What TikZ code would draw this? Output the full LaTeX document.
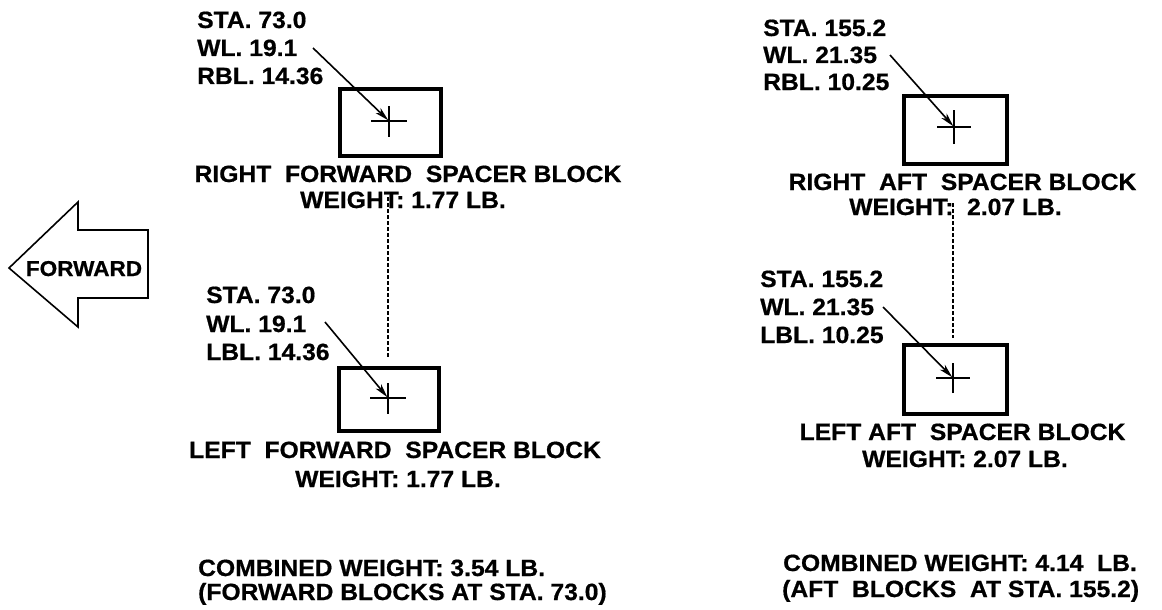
\documentclass[tikz,border=0pt]{standalone}
\usepackage{fontspec}
\setmainfont{Liberation Sans}[FakeStretch=1.05, BoldFeatures={FakeBold=0.7}]
\usetikzlibrary{arrows.meta}
\tikzset{
  txt/.style={inner sep=0pt, font=\fontsize{23.5}{28}\selectfont\bfseries},
  lbl/.style={txt, anchor=base west},
  ttl/.style={txt, anchor=base},
  crossline/.style={line width=1.4pt},
  ptr/.style={line width=1.6pt, -{Stealth[length=14pt, width=7pt, inset=4pt]}, shorten >=1pt},
  dashline/.style={line width=1.4pt, dash pattern=on 4pt off 2pt},
  blk/.style={draw, line width=3.2pt, inner sep=0pt},
}
\begin{document}
\begin{tikzpicture}[x=1pt,y=-1pt]
\useasboundingbox (0,0) rectangle (1162,610);

% ---------- FORWARD arrow ----------
\draw[line width=1.6pt, line join=miter] (9,268) -- (78,202) -- (78,230) -- (148,230) -- (148,298) -- (78,298) -- (78,327) -- cycle;
\node[txt, font=\fontsize{21.5}{26}\selectfont\bfseries, anchor=base] (fwd) at (84,276) {FORWARD};

% ---------- Upper left block ----------
\node[lbl] (ul1) at (197,28) {STA. 73.0};
\node[lbl] (ul2) at (197,56) {WL. 19.1};
\node[lbl] (ul3) at (197,84) {RBL. 14.36};
\node[blk, minimum width=101pt, minimum height=67pt] (ulbox) at (390.5,122.5) {};
\coordinate (ulc) at (389,121);
\draw[crossline] ([xshift=-18pt]ulc) -- ([xshift=18pt]ulc);
\draw[crossline] ([yshift=-15.5pt]ulc) -- ([yshift=15.5pt]ulc);
\coordinate (ula) at (313,48);
\draw[ptr] (ula) -- (ulc);
\node[ttl] (ult) at (408,182) {RIGHT\ \ FORWARD\ \ SPACER BLOCK};
\node[ttl] (ulw) at (403,208) {WEIGHT: 1.77 LB.};

% ---------- Lower left block ----------
\node[lbl] (ll1) at (206,303) {STA. 73.0};
\node[lbl] (ll2) at (206,332) {WL. 19.1};
\node[lbl] (ll3) at (206,360) {LBL. 14.36};
\node[blk, minimum width=100pt, minimum height=63pt] (llbox) at (389,399.5) {};
\coordinate (llc) at (388,398);
\draw[crossline] ([xshift=-18pt]llc) -- ([xshift=18pt]llc);
\draw[crossline] ([yshift=-15.5pt]llc) -- ([yshift=15.5pt]llc);
\coordinate (lla) at (325,322);
\draw[ptr] (lla) -- (llc);
\node[ttl] (llt) at (395,458) {LEFT\ \ FORWARD\ \ SPACER BLOCK};
\node[ttl] (llw) at (398,487) {WEIGHT: 1.77 LB.};

% left dashed link
\coordinate (ld1) at (388,197);
\coordinate (ld2) at (388,357);
\draw[dashline] (ld1) -- (ld2);

% ---------- Upper right block ----------
\node[lbl] (ur1) at (763,36) {STA. 155.2};
\node[lbl] (ur2) at (763,63) {WL. 21.35};
\node[lbl] (ur3) at (763,90) {RBL. 10.25};
\node[blk, minimum width=103pt, minimum height=68pt] (urbox) at (955.5,130) {};
\coordinate (urc) at (954,127);
\draw[crossline] ([xshift=-17pt]urc) -- ([xshift=17pt]urc);
\draw[crossline] ([yshift=-17pt]urc) -- ([yshift=17pt]urc);
\coordinate (ura) at (890,55);
\draw[ptr] (ura) -- (urc);
\node[ttl] (urt) at (962.5,190) {RIGHT\ \ AFT\ \ SPACER BLOCK};
\node[ttl] (urw) at (955.5,215) {WEIGHT:\ \ 2.07 LB.};

% ---------- Lower right block ----------
\node[lbl] (lr1) at (760,287) {STA. 155.2};
\node[lbl] (lr2) at (760,315) {WL. 21.35};
\node[lbl] (lr3) at (760,343) {LBL. 10.25};
\node[blk, minimum width=103pt, minimum height=69pt] (lrbox) at (955.5,379.5) {};
\coordinate (lrc) at (953,378);
\draw[crossline] ([xshift=-17pt]lrc) -- ([xshift=17pt]lrc);
\draw[crossline] ([yshift=-15pt]lrc) -- ([yshift=15pt]lrc);
\coordinate (lra) at (883,307);
\draw[ptr] (lra) -- (lrc);
\node[ttl] (lrt) at (962.5,440) {LEFT AFT\ \ SPACER BLOCK};
\node[ttl] (lrw) at (965,467) {WEIGHT: 2.07 LB.};

% right dashed link
\coordinate (rd1) at (953,203);
\coordinate (rd2) at (953,338);
\draw[dashline] (rd1) -- (rd2);

% ---------- Combined weights ----------
\node[lbl] (cl1) at (198,576) {COMBINED WEIGHT: 3.54 LB.};
\node[lbl] (cl2) at (198,600) {(FORWARD BLOCKS AT STA. 73.0)};
\node[lbl] (cr1) at (783,571) {COMBINED WEIGHT: 4.14\ \ LB.};
\node[lbl] (cr2) at (782,597) {(AFT\ \ BLOCKS\ \ AT STA. 155.2)};
\end{tikzpicture}
\end{document}
